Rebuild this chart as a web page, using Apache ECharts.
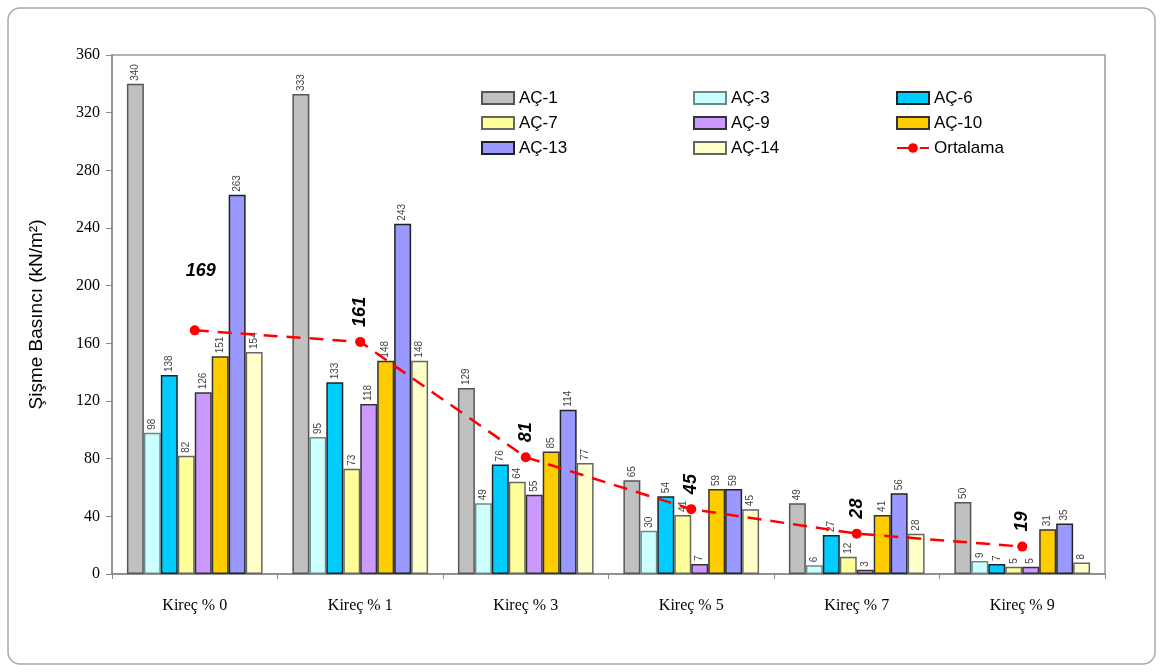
<!DOCTYPE html>
<html><head><meta charset="utf-8">
<script src="https://cdn.jsdelivr.net/npm/echarts@6/dist/echarts.min.js"></script>
<style>html,body{margin:0;padding:0;background:#fff}#c{width:1163px;height:672px}</style>
</head><body><div id="c"></div>
<script>
const categories = ['Kireç % 0','Kireç % 1','Kireç % 3','Kireç % 5','Kireç % 7','Kireç % 9'];
const seriesNames = ['AÇ-1','AÇ-3','AÇ-6','AÇ-7','AÇ-9','AÇ-10','AÇ-13','AÇ-14'];
const ac1  = [340, 333, 129, 65, 49, 50];
const ac3  = [98, 95, 49, 30, 6, 9];
const ac6  = [138, 133, 76, 54, 27, 7];
const ac7  = [82, 73, 64, 41, 12, 5];
const ac9  = [126, 118, 55, 7, 3, 5];
const ac10 = [151, 148, 85, 59, 41, 31];
const ac13 = [263, 243, 114, 59, 56, 35];
const ac14 = [154, 148, 77, 45, 28, 8];
const ortalama = [169, 161, 81, 45, 28, 19];
const yTicks = [0, 40, 80, 120, 160, 200, 240, 280, 320, 360];

const values = [ac1, ac3, ac6, ac7, ac9, ac10, ac13, ac14];
const colors = ['#c0c0c0','#ccffff','#00ccff','#ffff99','#cc99ff','#ffcc00','#9999ff','#ffffcc'];
const borders = ['#555','#6a8a8a','#222','#666','#333','#333','#222','#666'];

const chart = echarts.init(document.getElementById('c'));
const barSeries = seriesNames.map((n, i) => ({
  name: n, type: 'bar', data: values[i], barGap: '0%', barCategoryGap: '18%',
  itemStyle: { color: colors[i], borderColor: borders[i], borderWidth: 1.5 },
  label: { show: true, position: 'top', rotate: 90, align: 'left', verticalAlign: 'middle',
    distance: 3, fontSize: 10, color: '#444', fontFamily: 'Liberation Sans' },
  emphasis: { disabled: true }
}));
const lineData = ortalama.map((v, i) => i === 0
  ? { value: v, label: { rotate: 0, align: 'center', verticalAlign: 'bottom', offset: [6, -35] } }
  : { value: v });
const legendText = { fontSize: 17, fontFamily: 'Liberation Sans', color: '#000', lineHeight: 18 };
function mkLegend(left, data) {
  return { orient: 'vertical', left: left, top: 84, itemWidth: 32, itemHeight: 12, itemGap: 7,
    textStyle: legendText, selectedMode: false,
    data: data.map(d => d === 'Ortalama' ? { name: d } : { name: d, icon: 'rect', itemStyle: { borderWidth: 2 } }) };
}

chart.setOption({
  animation: false,
  graphic: [{ type: 'rect', shape: { x: 8, y: 8, width: 1147, height: 656, r: 12 }, style: { fill: 'none', stroke: '#aaa', lineWidth: 1.5 } }],
  grid: { left: 112, right: 58, top: 55, bottom: 98, show: true, borderColor: '#999', borderWidth: 1.5 },
  legend: [
    mkLegend(476, ['AÇ-1','AÇ-7','AÇ-13']),
    mkLegend(688, ['AÇ-3','AÇ-9','AÇ-14']),
    mkLegend(891, ['AÇ-6','AÇ-10','Ortalama'])
  ],
  xAxis: { type: 'category', data: categories,
    axisLine: { lineStyle: { color: '#888', width: 1.5 } },
    axisTick: { show: true, length: 5, lineStyle: { color: '#888' } },
    axisLabel: { fontFamily: 'Liberation Serif', fontSize: 16, color: '#000', margin: 24 } },
  yAxis: { type: 'value', min: 0, max: 360, interval: 40,
    name: 'Şişme Basıncı (kN/m²)', nameLocation: 'middle', nameGap: 66,
    nameTextStyle: { fontFamily: 'Liberation Sans', fontSize: 19, color: '#000' },
    axisLine: { show: true, lineStyle: { color: '#888', width: 1.5 } },
    axisTick: { show: true, length: 6, lineStyle: { color: '#888' } },
    splitLine: { show: false },
    axisLabel: { fontFamily: 'Liberation Serif', fontSize: 16, color: '#000', margin: 12,
      formatter: v => yTicks.includes(v) ? String(v) : '' } },
  series: barSeries.concat([{
    name: 'Ortalama', type: 'line', data: lineData, z: 10,
    symbol: 'circle', symbolSize: 10,
    lineStyle: { color: '#ff0000', width: 2.5, type: [14, 9] },
    itemStyle: { color: '#ff0000' },
    label: { show: true, position: 'top', rotate: 90, align: 'left', verticalAlign: 'middle', distance: 10,
      fontSize: 18, fontWeight: 'bold', fontStyle: 'italic', fontFamily: 'Liberation Sans', color: '#000' },
    emphasis: { disabled: true }
  }])
});
</script></body></html>
